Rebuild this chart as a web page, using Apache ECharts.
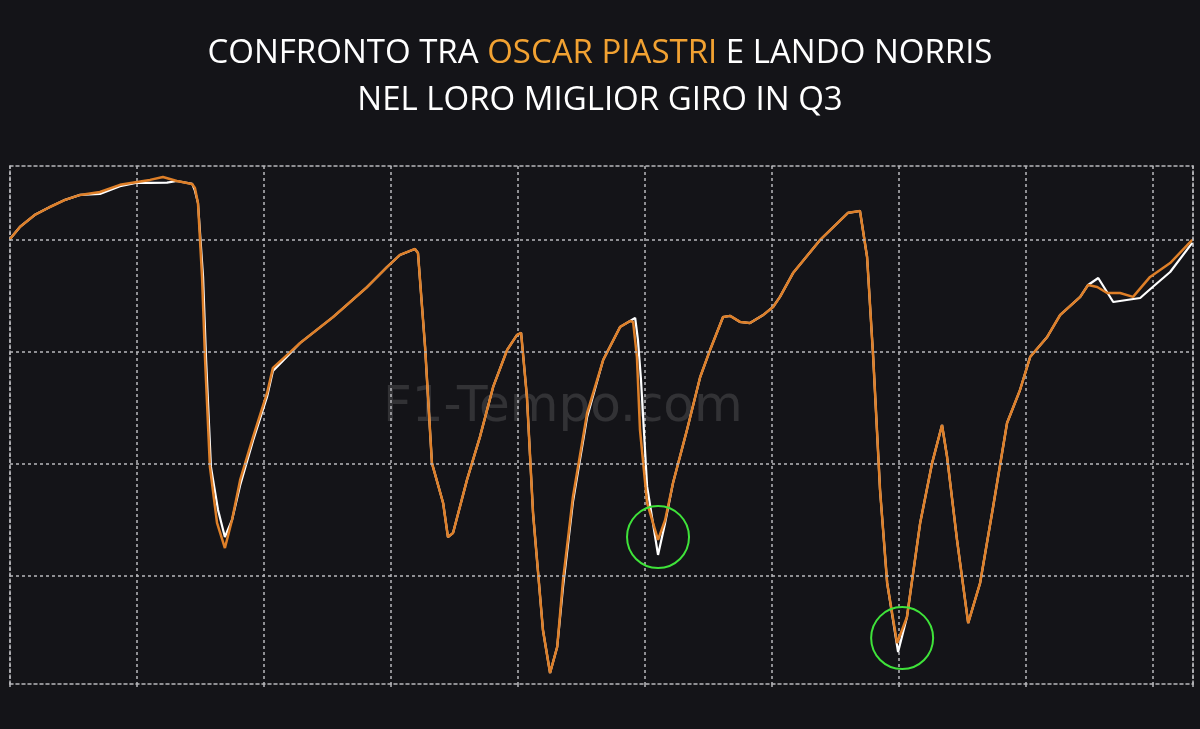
<!DOCTYPE html>
<html>
<head>
<meta charset="utf-8">
<script src="https://cdn.jsdelivr.net/npm/echarts@6/dist/echarts.min.js"></script>
<style>
html,body{margin:0;padding:0;background:#141418;}
#c{width:1200px;height:729px;}
</style>
</head>
<body>
<div id="c"></div>
<script>
// Distance (m) and speed (km/h)
const piastriDist = [0,39,98,157,217,276,354,433,500,551,602,657,717,728,740,756,768,787,815,846,874,906,957,1012,1035,1091,1142,1272,1406,1484,1535,1594,1606,1634,1661,1705,1724,1744,1799,1850,1902,1957,1996,2012,2035,2059,2098,2126,2154,2177,2216,2272,2335,2402,2441,2453,2468,2480,2508,2551,2579,2610,2665,2717,2756,2807,2835,2874,2913,2965,3004,3031,3083,3189,3299,3346,3374,3398,3425,3453,3492,3531,3583,3630,3669,3689,3728,3772,3819,3870,3925,3976,4016,4083,4134,4213,4244,4280,4319,4370,4421,4488,4567,4654];
const piastriSpeed = [300.4,305.8,311.2,314.7,317.9,320.1,321.4,324.6,325.9,326.8,328.1,326.3,325.0,323.2,316.5,283.5,246.4,198.7,173.7,162.5,175.0,192.9,212.1,231.7,242.9,248.7,254.0,265.6,279.0,287.9,293.3,296.0,294.2,252.2,200.4,182.6,167.4,169.2,192.9,212.1,234.4,250.9,257.6,258.5,229.9,178.1,125.9,106.7,118.3,148.2,185.3,222.8,246.4,261.2,263.8,263.4,247.8,215.2,182.6,166.1,175.0,191.5,215.2,238.8,250.9,265.6,266.1,263.4,262.9,266.5,270.1,274.6,285.3,300.0,312.1,312.9,292.4,247.8,188.4,146.9,120.1,131.7,173.7,200.4,217.4,203.1,166.1,129.0,146.9,180.8,218.3,233.0,247.8,256.7,266.5,274.6,279.9,279.0,276.3,276.3,274.6,283.5,289.7,300.0];

const norrisDist = [0,39,98,157,217,276,354,433,500,551,618,657,717,728,740,760,772,791,819,846,874,906,957,1012,1035,1091,1142,1272,1406,1484,1535,1594,1606,1634,1661,1705,1724,1744,1799,1850,1902,1957,1996,2012,2035,2059,2098,2126,2154,2177,2216,2272,2335,2402,2441,2461,2472,2484,2508,2551,2579,2610,2665,2717,2756,2807,2835,2874,2913,2965,3004,3031,3083,3189,3299,3346,3374,3398,3425,3453,3496,3531,3583,3630,3669,3689,3728,3772,3819,3870,3925,3976,4016,4083,4134,4213,4244,4284,4343,4449,4488,4567,4654];
const norrisSpeed = [300.4,305.8,311.2,314.7,317.9,320.1,320.5,324.0,325.6,325.5,325.6,326.3,325.0,322.0,316.5,283.5,246.4,198.7,179.5,167.4,175.0,190.5,210.5,230.0,241.5,248.0,254.0,265.6,279.0,287.9,293.3,296.0,294.2,252.2,200.4,182.6,167.4,169.2,192.9,212.1,234.4,250.9,257.6,258.5,229.9,178.1,125.9,106.7,118.3,145.0,183.0,221.0,246.4,261.2,263.8,265.2,255.4,237.5,190.0,159.4,173.7,191.5,215.2,238.8,250.9,265.6,266.1,263.4,262.9,266.5,270.1,274.6,285.3,300.0,312.1,312.9,292.4,247.8,188.4,146.9,116.1,131.7,173.7,200.4,217.4,203.1,166.1,129.0,146.9,180.8,218.3,233.0,247.8,256.7,266.5,274.6,279.9,283.0,272.3,274.1,278.0,285.7,298.7];

// Grid ticks
const speedTicks = [150, 200, 250, 300];
const circleMarks = [[2551, 167.4], [3512, 122.3]];

const toPairs = (xs, ys) => xs.map((x, i) => [x, ys[i]]);
const gridLine = { color: '#b8b8bc', width: 1.5, type: [3, 3] };

const chart = echarts.init(document.getElementById('c'), null, { renderer: 'canvas' });
chart.setOption({
  backgroundColor: '#141418',
  animation: false,
  title: [
    {
      text: '{w|CONFRONTO TRA }{o|OSCAR PIASTRI}{w| E LANDO NORRIS}',
      left: 'center', top: 32,
      textStyle: {
        fontWeight: 'normal',
        rich: {
          w: { color: '#ffffff', fontSize: 33, fontFamily: 'Open Sans', fontWeight: 'normal' },
          o: { color: '#f2a232', fontSize: 33, fontFamily: 'Open Sans', fontWeight: 'normal' }
        }
      }
    },
    {
      text: 'NEL LORO MIGLIOR GIRO IN Q3',
      left: 'center', top: 79,
      textStyle: { color: '#ffffff', fontSize: 33, fontFamily: 'Open Sans', fontWeight: 'normal' }
    }
  ],
  graphic: [
    {
      type: 'text', left: 383, top: 383, silent: true, z: 0,
      style: { text: 'F1-Tempo.com', fill: 'rgba(255,255,255,0.13)', font: '50px "DejaVu Sans"' }
    }
  ],
  grid: { left: 10, right: 7, top: 166, bottom: 45 },
  xAxis: [
    {
      type: 'value', min: 0, max: 4657, interval: 500,
      axisLine: { show: true, lineStyle: gridLine },
      axisTick: { show: true, length: 4, lineStyle: gridLine },
      axisLabel: { show: false },
      splitLine: { show: true, lineStyle: gridLine }
    },
    {
      type: 'value', position: 'top', min: 0, max: 4657,
      axisLine: { show: true, onZero: false, lineStyle: gridLine },
      axisTick: { show: false }, axisLabel: { show: false }, splitLine: { show: false }
    }
  ],
  yAxis: [
    {
      type: 'value', min: 101.8, max: 333,
      axisLine: { show: true, onZero: false, lineStyle: gridLine },
      axisTick: { show: false }, axisLabel: { show: false }, splitLine: { show: false }
    },
    {
      type: 'value', position: 'right', min: 101.8, max: 333,
      axisLine: { show: true, onZero: false, lineStyle: gridLine },
      axisTick: { show: false }, axisLabel: { show: false }, splitLine: { show: false }
    }
  ],
  series: [
    {
      name: 'Lando Norris', type: 'line', showSymbol: false, z: 3,
      data: toPairs(norrisDist, norrisSpeed),
      lineStyle: { color: '#ffffff', width: 2.2 },
      markLine: {
        silent: true, symbol: 'none', label: { show: false },
        lineStyle: gridLine,
        data: speedTicks.map(v => ({ yAxis: v }))
      }
    },
    {
      name: 'Oscar Piastri', type: 'line', showSymbol: false, z: 4,
      data: toPairs(piastriDist, piastriSpeed),
      lineStyle: { color: '#de7f28', width: 2.5 },
      markPoint: {
        silent: true, symbol: 'circle', symbolSize: 62, label: { show: false },
        itemStyle: { color: 'rgba(0,0,0,0)', borderColor: '#3fe33a', borderWidth: 2 },
        data: circleMarks.map(c => ({ coord: c }))
      }
    }
  ]
});
</script>
</body>
</html>
